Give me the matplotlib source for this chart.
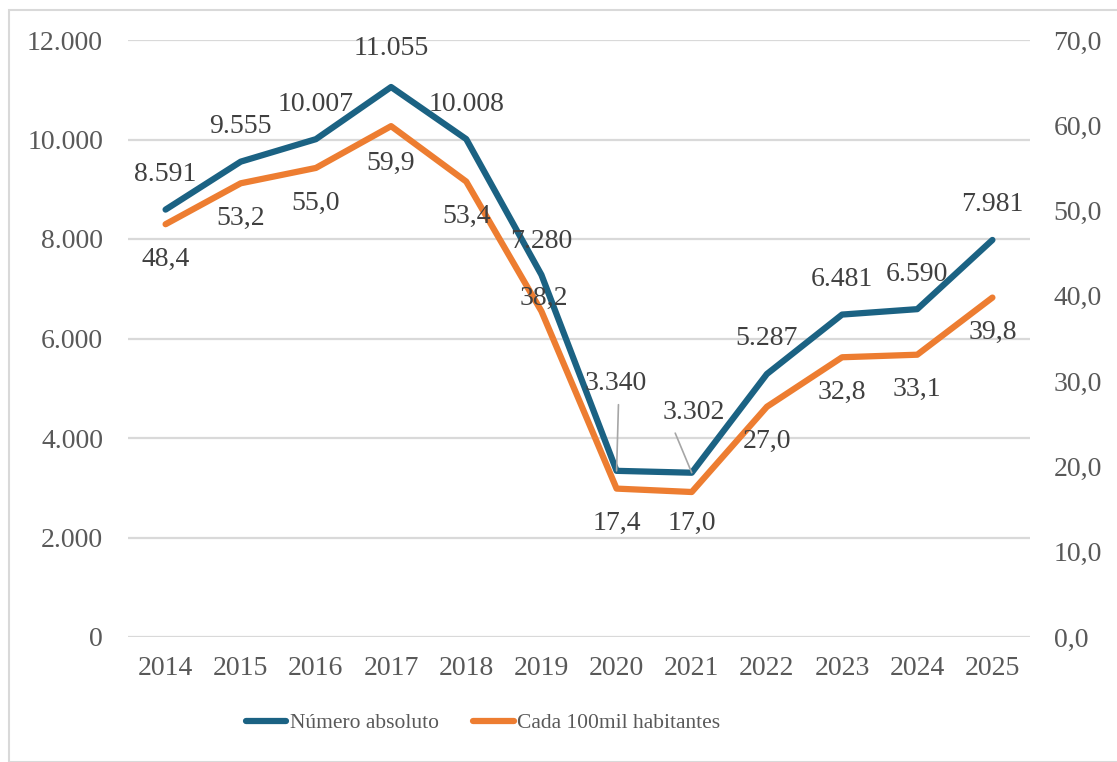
import matplotlib.pyplot as plt
from matplotlib.patches import Rectangle

plt.rcParams['font.family'] = ['Liberation Serif', 'DejaVu Serif']

years = ['2014', '2015', '2016', '2017', '2018', '2019', '2020', '2021', '2022', '2023', '2024', '2025']
absoluto = [8591, 9555, 10007, 11055, 10008, 7280, 3340, 3302, 5287, 6481, 6590, 7981]
taxa = [48.4, 53.2, 55.0, 59.9, 53.4, 38.2, 17.4, 17.0, 27.0, 32.8, 33.1, 39.8]

blue = '#1b6283'
orange = '#ed7d31'
tick_col = '#595959'
lab_col = '#404040'
fs = 20

W, H = 1117, 762
fig = plt.figure(figsize=(W / 100, H / 100), dpi=100)
ax = fig.add_axes([128 / W, (H - 637) / H, (1030 - 128) / W, (637 - 40) / H])
ax2 = ax.twinx()

x = list(range(len(years)))
l1, = ax.plot(x, absoluto, color=blue, lw=4.5, solid_capstyle='round', zorder=3)
l2, = ax2.plot(x, taxa, color=orange, lw=4.5, solid_capstyle='round', zorder=3)

ax.set_xlim(-0.5, len(years) - 0.5)
ax.set_ylim(0, 12000)
ax2.set_ylim(0, 70)
ax.set_yticks(range(0, 12001, 2000))
ax.set_yticklabels([f'{v:,}'.replace(',', '.') for v in range(0, 12001, 2000)])
ax2.set_yticks(range(0, 71, 10))
ax2.set_yticklabels([f'{v:.1f}'.replace('.', ',') for v in range(0, 71, 10)])
ax.set_xticks(x)
ax.set_xticklabels(years)

ax.grid(axis='y', color='#d9d9d9', lw=1.6)
ax.set_axisbelow(True)
for a in (ax, ax2):
    for s in a.spines.values():
        s.set_visible(False)
    a.tick_params(length=0, labelsize=fs, labelcolor=tick_col)
ax.tick_params(axis='y', pad=18)
ax2.tick_params(axis='y', pad=17)
ax.tick_params(axis='x', pad=14)

# rótulos da série absoluta
offs_abs = [(0, 35)] * len(x)
offs_abs[3] = (0, 39)
offs_abs[5] = (0, 33)
for i, v in enumerate(absoluto):
    lbl = f'{v:,}'.replace(',', '.')
    if i == 6:
        ax.annotate(lbl, (i, v), xytext=(-1, 87), textcoords='offset pixels',
                    ha='center', va='center', fontsize=fs, color=lab_col, zorder=5,
                    arrowprops=dict(arrowstyle='-', color='#a6a6a6', lw=1.2,
                                    relpos=(0.55, 0), shrinkA=4, shrinkB=0))
    elif i == 7:
        ax.annotate(lbl, (i, v), xytext=(2, 60), textcoords='offset pixels',
                    ha='center', va='center', fontsize=fs, color=lab_col, zorder=5,
                    arrowprops=dict(arrowstyle='-', color='#a6a6a6', lw=1.2,
                                    relpos=(0.15, 0), shrinkA=4, shrinkB=0))
    else:
        ax.annotate(lbl, (i, v), xytext=offs_abs[i], textcoords='offset pixels',
                    ha='center', va='center', fontsize=fs, color=lab_col, zorder=5)

# rótulos da taxa
offs_tx = [(0, -35)] * len(x)
offs_tx[3] = (0, -37)
offs_tx[5] = (2, 13)
offs_tx[7] = (0, -31)
for i, v in enumerate(taxa):
    ax2.annotate(f'{v:.1f}'.replace('.', ','), (i, v), xytext=offs_tx[i],
                 textcoords='offset pixels', ha='center', va='center',
                 fontsize=fs, color=lab_col, zorder=5)

fig.legend([l1, l2], ['Número absoluto', 'Cada 100mil habitantes'],
           loc='center', bbox_to_anchor=(483 / W, (H - 723) / H), ncol=2, frameon=False,
           fontsize=15.5, labelcolor=tick_col, handlelength=1.9, handletextpad=0.15,
           columnspacing=1.6)

fig.patches.append(Rectangle((9 / W, 0), 1.2, (H - 10) / H, transform=fig.transFigure,
                             fill=False, edgecolor='#d9d9d9', lw=1.5))

fig.savefig('out.png', dpi=100)
